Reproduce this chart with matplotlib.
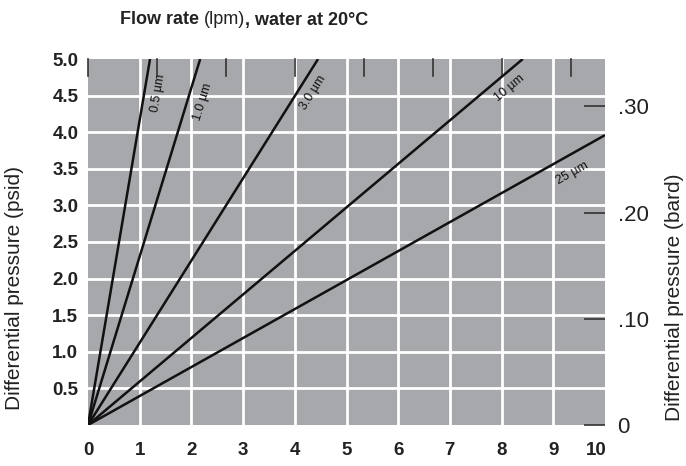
import numpy as np
import matplotlib
matplotlib.use("Agg")
import matplotlib.pyplot as plt
from matplotlib.transforms import ScaledTranslation

plt.rcParams['font.family'] = ['Liberation Sans', 'DejaVu Sans']

# Data: filter grades, each line runs from origin to an end point (flow lpm, dp psid)
grades = ["0.5 µm", "1.0 µm", "3.0 µm", "10 µm", "25 µm"]
end_flow = [1.2, 2.17, 4.45, 8.41, 10.0]
end_dp = [5.0, 5.0, 5.0, 5.0, 3.96]
# label anchor (flow, dp)
label_flow = [1.35, 2.22, 4.35, 8.16, 9.36]
label_dp = [4.54, 4.41, 4.54, 4.60, 3.44]

x_ticks = [0, 1, 2, 3, 4, 5, 6, 7, 8, 9, 10]
y_ticks = [0.5, 1.0, 1.5, 2.0, 2.5, 3.0, 3.5, 4.0, 4.5, 5.0]
bar_ticks = [0, 0.10, 0.20, 0.30]
bar_labels = ["0", ".10", ".20", ".30"]
top_ticks = [k * 4 / 3 for k in range(8)]
PSI_PER_BAR = 14.5038

W, H = 686, 466
fig = plt.figure(figsize=(W / 100, H / 100), dpi=100)
ax = fig.add_axes([88 / W, 41 / H, 517 / W, 366 / H])
ax.set_facecolor('#a7a8ab')
ax.set_xlim(0, 10)
ax.set_ylim(0, 5)
for s in ax.spines.values():
    s.set_visible(False)

for xv in x_ticks[1:-1]:
    ax.axvline(xv, color='white', lw=2, zorder=1)
for yv in y_ticks[:-1]:
    ax.axhline(yv, color='white', lw=2, zorder=1)

ax.set_xticks(x_ticks)
ax.set_xticklabels([str(v) for v in x_ticks], fontsize=13.5, fontweight='bold', color='#222222')
ax.set_yticks(y_ticks)
ax.set_yticklabels([f"{v:.1f}" for v in y_ticks], fontsize=13.5, fontweight='bold', color='#222222')
ax.tick_params(axis='y', length=0, pad=7)
ax.tick_params(axis='x', length=0, pad=12)
last = ax.get_xticklabels()[-1]
last.set_ha('right')
last.set_transform(last.get_transform() + ScaledTranslation(0.02, 0, fig.dpi_scale_trans))

# top ticks
for tx in top_ticks:
    ax.plot([tx, tx], [5.0, 5.0 - 17 / 73.2], color='#333333', lw=1.2, zorder=3, clip_on=False)

for g, fx, fy, lx, ly in zip(grades, end_flow, end_dp, label_flow, label_dp):
    ax.plot([0, fx], [0, fy], color='#111111', lw=1.8, zorder=4, solid_capstyle='butt')
    p0 = ax.transData.transform((0, 0))
    p1 = ax.transData.transform((fx, fy))
    ang = np.degrees(np.arctan2(p1[1] - p0[1], p1[0] - p0[0]))
    ax.text(lx, ly, g, rotation=ang, rotation_mode='anchor', ha='center', va='center',
            fontsize=9, color='#111111', zorder=5)

fig.text(15 / W, 1 - 288 / H, "Differential pressure (psid)", rotation=90, fontsize=15,
         color='#222222', ha='center', va='center')

ax2 = ax.twinx()
ax2.set_ylim(0, 5 / PSI_PER_BAR)
for s in ax2.spines.values():
    s.set_visible(False)
ax2.set_yticks(bar_ticks)
ax2.set_yticklabels(bar_labels, fontsize=16, color='#222222')
ax2.tick_params(axis='y', direction='in', length=15, width=1.2, color='#333333', pad=9)

fig.text(674 / W, 1 - 297 / H, "Differential pressure (bard)", rotation=90, fontsize=15,
         color='#222222', ha='center', va='center')

# title in mixed weights
ty = 1 - 20 / H
t1 = fig.text(120 / W, ty, "Flow rate ", fontsize=13, fontweight='bold',
              color='#222222', va='center', ha='left')
fig.canvas.draw()
r = fig.canvas.get_renderer()
bb = t1.get_window_extent(r)
t2 = fig.text(bb.x1 / fig.bbox.width, ty, "(lpm)", fontsize=13,
              color='#222222', va='center', ha='left')
bb2 = t2.get_window_extent(r)
fig.text(bb2.x1 / fig.bbox.width, ty, ", water at 20°C", fontsize=13, fontweight='bold',
         color='#222222', va='center', ha='left')

fig.savefig("out.png", dpi=100)
